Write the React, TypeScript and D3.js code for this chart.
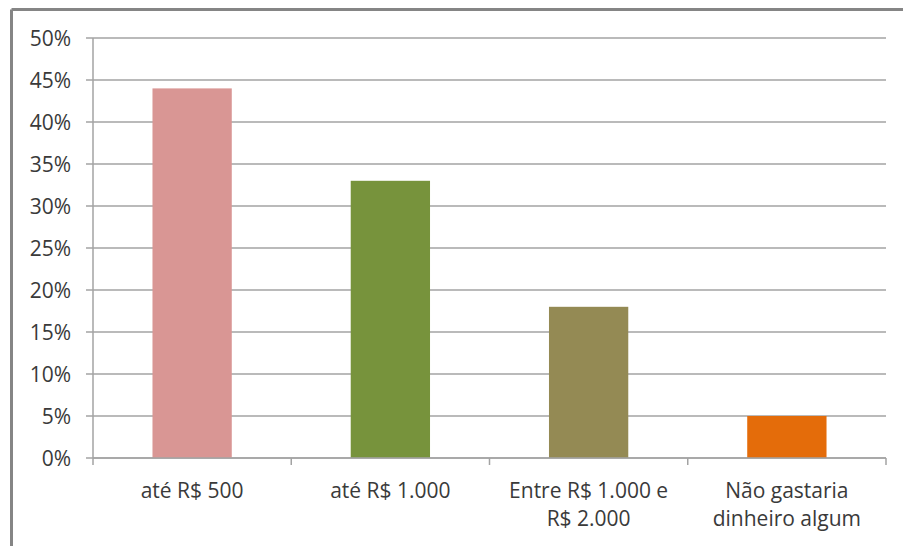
import React from "react";
import * as d3 from "d3";

const categories: string[][] = [
  ["até R$ 500"],
  ["até R$ 1.000"],
  ["Entre R$ 1.000 e", "R$ 2.000"],
  ["Não gastaria", "dinheiro algum"],
];
const values: number[] = [0.44, 0.33, 0.18, 0.05];
const colors: string[] = ["#D99694", "#77933C", "#948A54", "#E46C0A"];
const yTicks: number[] = [0, 0.05, 0.1, 0.15, 0.2, 0.25, 0.3, 0.35, 0.4, 0.45, 0.5];

const W = 903;
const H = 546;
const left = 93;
const right = 886;
const top = 38;
const bottom = 458;
const FONT = "'Open Sans', sans-serif";
const TEXT = "#3a3a3a";

export default function App() {
  const x = d3
    .scaleBand<number>()
    .domain(d3.range(values.length))
    .range([left, right])
    .padding(0);
  const y = d3.scaleLinear().domain([0, 0.5]).range([bottom, top]);
  const bw = x.bandwidth() * 0.4;
  const fmt = d3.format(".0%");

  return (
    <svg
      width={W}
      height={H}
      style={{ position: "absolute", left: 0, top: 0, background: "#fff" }}
      fontFamily={FONT}
    >
      <rect x={0} y={0} width={W} height={H} fill="#fff" />
      {/* frame */}
      <line x1={11.5} x2={W} y1={9.5} y2={9.5} stroke="#858585" strokeWidth={3} />
      <line x1={11.5} x2={11.5} y1={9.5} y2={H} stroke="#858585" strokeWidth={3} />

      {/* gridlines and y ticks */}
      {yTicks.map((t) => (
        <g key={t}>
          <line
            x1={left - 7}
            x2={right}
            y1={y(t)}
            y2={y(t)}
            stroke="#a3a3a3"
            strokeWidth={1.5}
          />
          <text
            x={71}
            y={y(t)}
            dy="0.36em"
            textAnchor="end"
            fontSize={21}
            fill={TEXT}
          >
            {fmt(t)}
          </text>
        </g>
      ))}
      {/* y axis line */}
      <line x1={left} x2={left} y1={top} y2={bottom} stroke="#a3a3a3" strokeWidth={1.5} />

      {/* bars */}
      {values.map((v, i) => (
        <rect
          key={i}
          x={(x(i) as number) + (x.bandwidth() - bw) / 2}
          y={y(v)}
          width={bw}
          height={y(0) - y(v)}
          fill={colors[i]}
        />
      ))}

      {/* x axis */}
      <line x1={left} x2={right} y1={bottom} y2={bottom} stroke="#a3a3a3" strokeWidth={1.5} />
      {d3.range(values.length + 1).map((i) => {
        const xx = i < values.length ? (x(i) as number) : right;
        return (
          <line
            key={i}
            x1={xx}
            x2={xx}
            y1={bottom}
            y2={bottom + 7}
            stroke="#a3a3a3"
            strokeWidth={1.5}
          />
        );
      })}
      {categories.map((lines, i) => (
        <text
          key={i}
          x={(x(i) as number) + x.bandwidth() / 2}
          y={498}
          textAnchor="middle"
          fontSize={21}
          fill={TEXT}
        >
          {lines.map((l, j) => (
            <tspan key={j} x={(x(i) as number) + x.bandwidth() / 2} dy={j === 0 ? 0 : 28}>
              {l}
            </tspan>
          ))}
        </text>
      ))}
    </svg>
  );
}
